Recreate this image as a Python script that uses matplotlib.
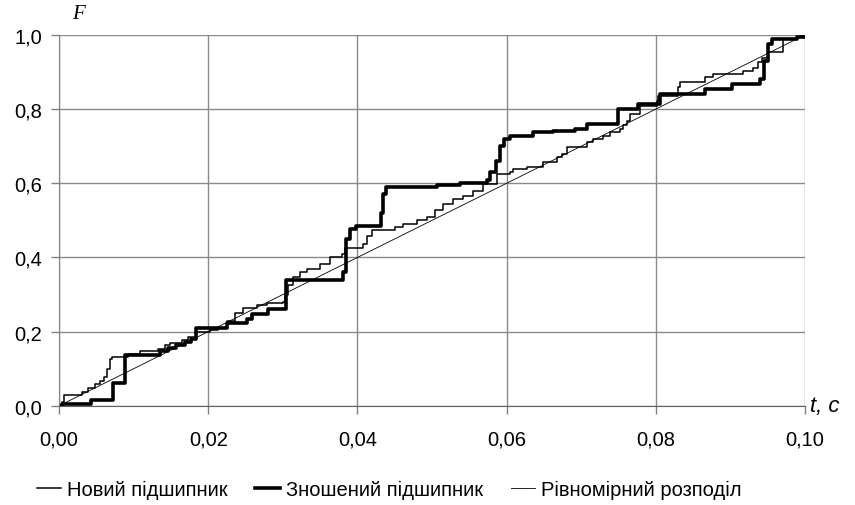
import matplotlib
matplotlib.use("Agg")
import matplotlib.pyplot as plt

plt.rcParams["font.family"] = ["Liberation Sans", "DejaVu Sans"]

# Новий підшипник (new bearing) - empirical CDF, step points
t_new = [0.0, 0.0004, 0.0007, 0.0031, 0.0039, 0.0048, 0.0055, 0.0060, 0.0064, 0.0068,
         0.0071, 0.0092, 0.0109, 0.0133, 0.0142, 0.0149, 0.0165, 0.0173, 0.0184, 0.0202,
         0.0213, 0.0225, 0.0236, 0.0247, 0.0265, 0.0279, 0.0300, 0.0303, 0.0307, 0.0314,
         0.0323, 0.0332, 0.0350, 0.0363, 0.0379, 0.0383, 0.0408, 0.0413, 0.0420, 0.0450,
         0.0461, 0.0480, 0.0493, 0.0504, 0.0515, 0.0528, 0.0542, 0.0555, 0.0568, 0.0587,
         0.0605, 0.0609, 0.0627, 0.0649, 0.0668, 0.0674, 0.0681, 0.0708, 0.0716, 0.0729,
         0.0739, 0.0752, 0.0756, 0.0761, 0.0765, 0.0779, 0.0802, 0.0803, 0.0830, 0.0832,
         0.0866, 0.0877, 0.0917, 0.0930, 0.0937, 0.0942, 0.0950, 0.0971, 0.0989, 0.1000]
F_new = [0.0, 0.011, 0.029, 0.038, 0.047, 0.060, 0.068, 0.078, 0.100, 0.127,
         0.131, 0.141, 0.147, 0.154, 0.163, 0.170, 0.177, 0.185, 0.198, 0.205,
         0.210, 0.228, 0.251, 0.265, 0.272, 0.276, 0.280, 0.300, 0.325, 0.346,
         0.361, 0.370, 0.383, 0.401, 0.410, 0.426, 0.437, 0.459, 0.473, 0.481,
         0.490, 0.500, 0.509, 0.527, 0.545, 0.558, 0.567, 0.580, 0.598, 0.625,
         0.630, 0.639, 0.643, 0.657, 0.670, 0.680, 0.697, 0.710, 0.720, 0.728,
         0.737, 0.746, 0.756, 0.769, 0.787, 0.809, 0.823, 0.836, 0.859, 0.872,
         0.886, 0.894, 0.903, 0.912, 0.926, 0.939, 0.953, 0.989, 0.995, 1.000]

# Зношений підшипник (worn bearing)
t_worn = [0.0, 0.0004, 0.0043, 0.0072, 0.0089, 0.0135, 0.0146, 0.0157, 0.0169, 0.0177,
          0.0184, 0.0225, 0.0252, 0.0259, 0.0280, 0.0304, 0.0381, 0.0385, 0.0390, 0.0398,
          0.0432, 0.0434, 0.0438, 0.0507, 0.0538, 0.0574, 0.0578, 0.0586, 0.0591, 0.0597,
          0.0605, 0.0635, 0.0662, 0.0692, 0.0708, 0.0749, 0.0776, 0.0806, 0.0866, 0.0902,
          0.0940, 0.0945, 0.0950, 0.0956, 0.0989, 0.1000]
F_worn = [0.0, 0.004, 0.015, 0.062, 0.136, 0.147, 0.155, 0.163, 0.172, 0.180,
          0.210, 0.222, 0.235, 0.248, 0.262, 0.338, 0.360, 0.450, 0.477, 0.486,
          0.520, 0.570, 0.590, 0.595, 0.600, 0.610, 0.630, 0.660, 0.700, 0.720,
          0.728, 0.737, 0.742, 0.746, 0.760, 0.800, 0.814, 0.842, 0.854, 0.867,
          0.880, 0.930, 0.975, 0.990, 0.995, 1.000]

# Рівномірний розподіл (uniform distribution)
t_uni = [0.0, 0.1]
F_uni = [0.0, 1.0]

x_ticks = [0.0, 0.02, 0.04, 0.06, 0.08, 0.10]
x_labels = ["0,00", "0,02", "0,04", "0,06", "0,08", "0,10"]
y_ticks = [0.0, 0.2, 0.4, 0.6, 0.8, 1.0]
y_labels = ["0,0", "0,2", "0,4", "0,6", "0,8", "1,0"]

fig = plt.figure(figsize=(8.55, 5.06), dpi=100)
ax = fig.add_axes([0.069, 0.196, 0.8725, 0.733])

ax.plot(t_new, F_new, drawstyle="steps-post", color="black", lw=1.1,
        label="Новий підшипник")
ax.plot(t_worn, F_worn, drawstyle="steps-post", color="black", lw=2.6,
        label="Зношений підшипник")
ax.plot(t_uni, F_uni, color="black", lw=0.6, label="Рівномірний розподіл")

ax.set_xlim(0, 0.1)
ax.set_ylim(0, 1.0)
ax.set_xticks(x_ticks)
ax.set_xticklabels(x_labels)
ax.set_yticks(y_ticks)
ax.set_yticklabels(y_labels)
ax.tick_params(axis="both", labelsize=14.5, color="#808080", length=6, width=1)
ax.tick_params(axis="x", pad=11)
ax.tick_params(axis="y", pad=6)

ax.grid(True, color="#8a8a8a", lw=1)
ax.set_axisbelow(True)
for side in ["top", "right"]:
    ax.spines[side].set_visible(False)
ax.spines["left"].set_color("#808080")
ax.spines["bottom"].set_color("#606060")

fig.text(0.084, 0.99, "F", family="Liberation Serif", style="italic",
         fontsize=15, va="top", ha="left")
fig.text(0.947, 0.196, "t, c", style="italic", fontsize=16, va="center", ha="left")

fig.legend(loc="lower center", bbox_to_anchor=(0.455, -0.024), ncol=3, frameon=False,
           fontsize=14.5, handlelength=1.2, handletextpad=0.3, columnspacing=1.4)

plt.savefig("out.png", dpi=100)
